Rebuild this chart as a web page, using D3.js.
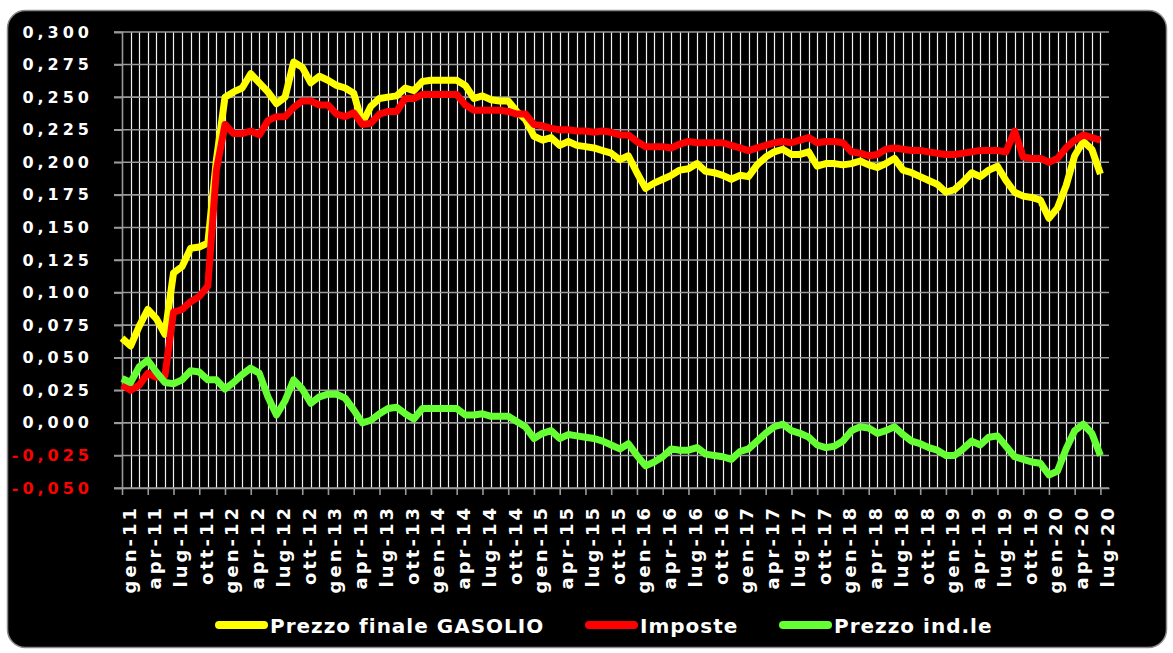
<!DOCTYPE html>
<html>
<head>
<meta charset="utf-8">
<script src="https://cdn.jsdelivr.net/npm/d3@7"></script>
<style>
  body { margin: 0; background: #fff; }
  svg { display: block; }
  text { font-family: "DejaVu Sans", Verdana, sans-serif; font-weight: bold; }
</style>
</head>
<body>
<svg width="1173" height="653"></svg>
<script>
// monthly categories gen-11 .. lug-20
var categories = [
  "gen-11","feb-11","mar-11","apr-11","mag-11","giu-11","lug-11","ago-11","set-11","ott-11","nov-11","dic-11",
  "gen-12","feb-12","mar-12","apr-12","mag-12","giu-12","lug-12","ago-12","set-12","ott-12","nov-12","dic-12",
  "gen-13","feb-13","mar-13","apr-13","mag-13","giu-13","lug-13","ago-13","set-13","ott-13","nov-13","dic-13",
  "gen-14","feb-14","mar-14","apr-14","mag-14","giu-14","lug-14","ago-14","set-14","ott-14","nov-14","dic-14",
  "gen-15","feb-15","mar-15","apr-15","mag-15","giu-15","lug-15","ago-15","set-15","ott-15","nov-15","dic-15",
  "gen-16","feb-16","mar-16","apr-16","mag-16","giu-16","lug-16","ago-16","set-16","ott-16","nov-16","dic-16",
  "gen-17","feb-17","mar-17","apr-17","mag-17","giu-17","lug-17","ago-17","set-17","ott-17","nov-17","dic-17",
  "gen-18","feb-18","mar-18","apr-18","mag-18","giu-18","lug-18","ago-18","set-18","ott-18","nov-18","dic-18",
  "gen-19","feb-19","mar-19","apr-19","mag-19","giu-19","lug-19","ago-19","set-19","ott-19","nov-19","dic-19",
  "gen-20","feb-20","mar-20","apr-20","mag-20","giu-20","lug-20"
];

// Prezzo finale GASOLIO (yellow)
var prezzoFinale = [
  0.065,0.059,0.074,0.087,0.080,0.068,0.115,0.120,0.134,0.135,
  0.138,0.202,0.250,0.254,0.257,0.268,0.261,0.254,0.245,0.250,
  0.277,0.273,0.261,0.266,0.263,0.259,0.257,0.253,0.230,0.243,
  0.249,0.250,0.251,0.257,0.255,0.262,0.263,0.263,0.263,0.263,
  0.259,0.249,0.251,0.248,0.247,0.247,0.239,0.233,0.220,0.217,
  0.219,0.213,0.216,0.213,0.212,0.211,0.209,0.207,0.202,0.205,
  0.192,0.180,0.184,0.187,0.190,0.194,0.195,0.199,0.193,0.192,
  0.190,0.187,0.190,0.189,0.198,0.204,0.208,0.210,0.206,0.206,
  0.208,0.197,0.199,0.199,0.198,0.199,0.201,0.198,0.196,0.199,
  0.203,0.194,0.192,0.189,0.186,0.183,0.177,0.179,0.185,0.192,
  0.189,0.194,0.197,0.186,0.177,0.174,0.173,0.171,0.157,0.165,
  0.182,0.205,0.216,0.210,0.191
];

// Imposte (red)
var imposte = [
  0.029,0.025,0.029,0.038,0.035,0.036,0.085,0.087,0.093,0.097,
  0.105,0.194,0.229,0.222,0.222,0.224,0.221,0.232,0.235,0.235,
  0.242,0.247,0.247,0.244,0.244,0.237,0.235,0.238,0.229,0.230,
  0.237,0.239,0.239,0.249,0.249,0.252,0.252,0.252,0.252,0.252,
  0.244,0.240,0.240,0.240,0.240,0.239,0.237,0.237,0.229,0.228,
  0.226,0.225,0.225,0.224,0.224,0.223,0.224,0.223,0.221,0.221,
  0.216,0.212,0.212,0.212,0.211,0.214,0.216,0.215,0.215,0.215,
  0.215,0.213,0.211,0.209,0.211,0.213,0.215,0.216,0.215,0.217,
  0.219,0.215,0.216,0.216,0.215,0.208,0.207,0.205,0.206,0.210,
  0.211,0.210,0.209,0.209,0.208,0.207,0.206,0.206,0.207,0.208,
  0.209,0.209,0.209,0.208,0.224,0.204,0.203,0.203,0.200,0.203,
  0.211,0.217,0.221,0.219,0.217
];

// Prezzo ind.le (green)
var prezzoInd = [
  0.034,0.031,0.043,0.048,0.039,0.031,0.030,0.033,0.040,0.039,
  0.033,0.033,0.026,0.031,0.037,0.042,0.038,0.020,0.006,0.017,
  0.033,0.026,0.015,0.020,0.022,0.022,0.019,0.010,0.000,0.002,
  0.007,0.011,0.012,0.007,0.003,0.011,0.011,0.011,0.011,0.011,
  0.006,0.006,0.007,0.005,0.005,0.005,0.001,-0.003,-0.012,-0.008,
  -0.006,-0.012,-0.009,-0.010,-0.011,-0.012,-0.014,-0.017,-0.020,-0.016,
  -0.025,-0.033,-0.030,-0.026,-0.020,-0.021,-0.021,-0.019,-0.024,-0.025,
  -0.026,-0.028,-0.022,-0.020,-0.014,-0.008,-0.003,-0.001,-0.006,-0.008,
  -0.011,-0.017,-0.019,-0.018,-0.014,-0.006,-0.003,-0.004,-0.008,-0.006,
  -0.003,-0.009,-0.014,-0.016,-0.019,-0.021,-0.025,-0.025,-0.020,-0.014,
  -0.017,-0.011,-0.010,-0.018,-0.026,-0.028,-0.030,-0.031,-0.040,-0.037,
  -0.020,-0.006,-0.001,-0.008,-0.025
];

var yTicks = [-0.05,-0.025,0,0.025,0.05,0.075,0.1,0.125,0.15,0.175,0.2,0.225,0.25,0.275,0.3];

var series = [
  {name: "Prezzo finale GASOLIO", values: prezzoFinale, color: "#ffff00"},
  {name: "Imposte", values: imposte, color: "#ff0000"},
  {name: "Prezzo ind.le", values: prezzoInd, color: "#66ff33"}
];

var svg = d3.select("svg");

// black rounded frame
svg.append("rect")
  .attr("x", 7.5).attr("y", 10.5)
  .attr("width", 1159).attr("height", 637)
  .attr("rx", 18)
  .attr("fill", "#000")
  .attr("stroke", "#8a8a8a")
  .attr("stroke-width", 1.5);

var x = d3.scaleLinear().domain([0, categories.length]).range([122, 1109]);
var y = d3.scaleLinear().domain([-0.05, 0.3]).range([488, 32]);

var g = svg.append("g");

// vertical monthly gridlines
g.append("g").selectAll("line")
  .data(d3.range(1, categories.length))
  .enter().append("line")
  .attr("x1", function(d) { return Math.round(x(d)) + 0.5; })
  .attr("x2", function(d) { return Math.round(x(d)) + 0.5; })
  .attr("y1", y(0.3)).attr("y2", y(-0.05))
  .attr("stroke", "#f2f2f2")
  .attr("stroke-width", 1.2);

// horizontal gridlines
g.append("g").selectAll("line")
  .data(yTicks)
  .enter().append("line")
  .attr("x1", 114).attr("x2", 1109)
  .attr("y1", function(d) { return y(d); })
  .attr("y2", function(d) { return y(d); })
  .attr("stroke", "#9a9a9a")
  .attr("stroke-width", 1.6);

// y axis
var fmt = function(d) { return d3.format(".3f")(d).replace(".", ",").replace("−", "-"); };
var yAxis = g.append("g")
  .attr("transform", "translate(122,0)")
  .call(d3.axisLeft(y).tickValues(yTicks).tickSize(8).tickPadding(21).tickFormat(fmt));
yAxis.select(".domain").attr("stroke", "#9a9a9a").attr("stroke-width", 1.6);
yAxis.selectAll(".tick line").attr("stroke", "#9a9a9a").attr("stroke-width", 1.6);
yAxis.selectAll(".tick text")
  .attr("fill", function(d) { return d < 0 ? "#ff0000" : "#ffffff"; })
  .style("font-size", "16px")
  .style("letter-spacing", "4px");

// x axis, label every 3 months
var qIdx = d3.range(0, categories.length, 3);
var xAxis = g.append("g")
  .attr("transform", "translate(0," + y(-0.05) + ")")
  .call(d3.axisBottom(x).tickValues(qIdx).tickSize(7).tickSizeOuter(0)
    .tickFormat(function(i) { return categories[i]; }));
xAxis.select(".domain").attr("stroke", "#9a9a9a").attr("stroke-width", 1.6);
xAxis.selectAll(".tick line").attr("stroke", "#9a9a9a").attr("stroke-width", 1.6);
xAxis.selectAll(".tick text")
  .attr("fill", "#ffffff")
  .attr("text-anchor", "end")
  .attr("transform", "translate(13,17) rotate(-90)")
  .attr("x", 0).attr("y", 0).attr("dy", 0)
  .style("font-size", "18px")
  .style("letter-spacing", "3px");

// lines
var line = d3.line()
  .x(function(d, i) { return x(i); })
  .y(function(d) { return y(d); });

g.append("g").selectAll("path")
  .data(series)
  .enter().append("path")
  .attr("d", function(s) { return line(s.values); })
  .attr("fill", "none")
  .attr("stroke", function(s) { return s.color; })
  .attr("stroke-width", 7)
  .attr("stroke-linejoin", "round")
  .attr("stroke-linecap", "butt");

// legend
var legendPos = [215, 585, 779];
var legend = svg.append("g").selectAll("g")
  .data(series)
  .enter().append("g")
  .attr("transform", function(s, i) { return "translate(" + legendPos[i] + ",625)"; });
legend.append("line")
  .attr("x1", 4).attr("x2", 49)
  .attr("stroke", function(s) { return s.color; })
  .attr("stroke-width", 8)
  .attr("stroke-linecap", "round");
legend.append("text")
  .attr("x", 55).attr("y", 7.5)
  .attr("fill", "#ffffff")
  .style("font-size", "20px")
  .style("letter-spacing", "1px")
  .text(function(s) { return s.name; });
</script>
</body>
</html>
